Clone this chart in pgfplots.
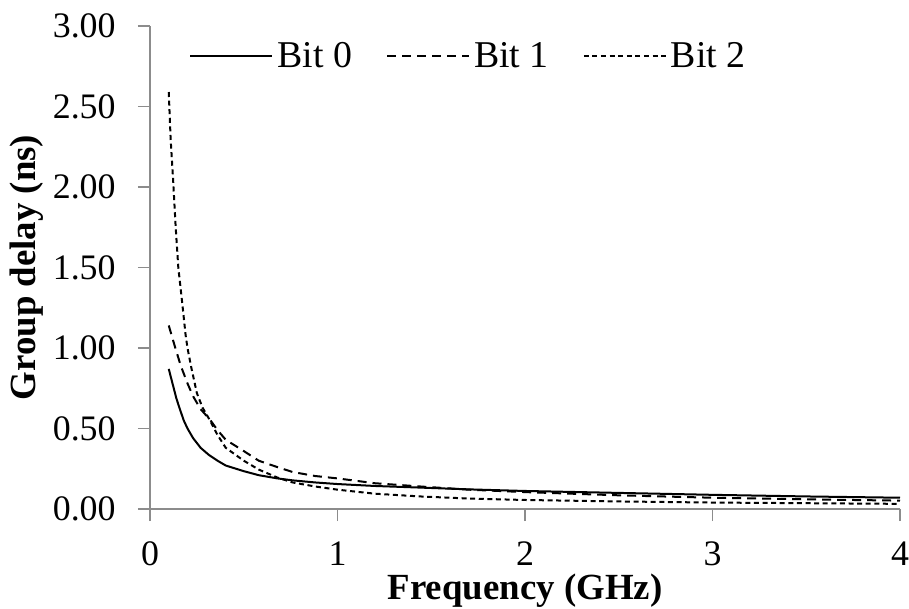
\documentclass[border=0pt]{standalone}
\usepackage{fontspec}
\setmainfont{Liberation Serif}
\usepackage{pgfplots}
\pgfplotsset{compat=1.18}
\begin{document}
\begin{tikzpicture}
\useasboundingbox (-75bp,-50bp) rectangle (379.5bp,254.5bp);
\begin{axis}[
  scale only axis, width=375bp, height=241.5bp,
  xmin=0, xmax=4, ymin=0, ymax=3,
  axis x line*=bottom, axis y line*=left,
  axis line style={black!45, line width=1bp, -},
  xtick={0,1,2,3,4}, ytick={0,0.5,1,1.5,2,2.5,3},
  tick align=outside, major tick length=6bp,
  tick style={black!45, line width=0.8bp},
  font=\fontsize{18}{21}\selectfont,
  /pgf/number format/assume math mode=true,
  yticklabel style={/pgf/number format/fixed, /pgf/number format/fixed zerofill, /pgf/number format/precision=2},
  yticklabel style={anchor=east, inner sep=0pt, xshift=-11bp},
  xticklabel style={inner sep=0pt, yshift=-10bp},
  ylabel={\fontsize{18.5}{21}\selectfont\bfseries Group delay (ns)},
  xlabel={\fontsize{18.5}{21}\selectfont\bfseries Frequency (GHz)},
  ylabel style={at={(axis description cs:-0.1647,0.5)}, anchor=center},
  xlabel style={at={(axis description cs:0.5,-0.1884)}, anchor=base},
  legend style={at={(axis description cs:0.052,0.936)}, anchor=west, draw=none, fill=none,
    inner sep=0pt, nodes={inner sep=2bp, anchor=base west, font=\fontsize{19}{21}\selectfont},
    /tikz/every even column/.append style={column sep=15bp}},
  legend columns=3,
  legend image code/.code={\draw[#1] (0bp,6bp) -- (41bp,6bp);},
  every axis plot/.append style={black, line width=1bp},
]
\addplot[solid] coordinates {
(0.1,0.87)(0.12,0.78)(0.14,0.69)(0.155,0.635)(0.18,0.55)(0.2,0.50)(0.23,0.44)(0.27,0.38)(0.315,0.335)(0.36,0.30)(0.404,0.27)(0.5,0.235)(0.58,0.21)(0.68,0.19)(0.76,0.178)(0.88,0.165)(1.0,0.155)(1.2,0.143)(1.44,0.133)(1.7,0.122)(2.0,0.112)(2.5,0.10)(3.0,0.088)(3.5,0.078)(4.0,0.07)
};
\addlegendentry{Bit 0}
\addplot[dash pattern=on 4.5bp off 3bp] coordinates {
(0.1,1.14)(0.13,1.02)(0.164,0.89)(0.2,0.78)(0.23,0.70)(0.27,0.62)(0.32,0.555)(0.36,0.49)(0.404,0.43)(0.5,0.36)(0.58,0.30)(0.68,0.26)(0.76,0.23)(0.88,0.205)(1.0,0.19)(1.2,0.16)(1.44,0.14)(1.7,0.12)(2.0,0.105)(2.5,0.085)(3.0,0.07)(3.5,0.06)(4.0,0.052)
};
\addlegendentry{Bit 1}
\addplot[dash pattern=on 2.5bp off 1.8bp] coordinates {
(0.1,2.59)(0.11,2.3)(0.123,2.05)(0.137,1.75)(0.151,1.5)(0.17,1.3)(0.19,1.08)(0.2,1.0)(0.22,0.88)(0.25,0.72)(0.28,0.63)(0.32,0.55)(0.36,0.46)(0.404,0.38)(0.5,0.30)(0.58,0.245)(0.68,0.195)(0.76,0.165)(0.88,0.14)(1.0,0.12)(1.2,0.095)(1.44,0.078)(1.7,0.065)(2.0,0.056)(2.5,0.047)(3.0,0.04)(3.5,0.036)(4.0,0.032)
};
\addlegendentry{Bit 2}
\end{axis}
\end{tikzpicture}
\end{document}
